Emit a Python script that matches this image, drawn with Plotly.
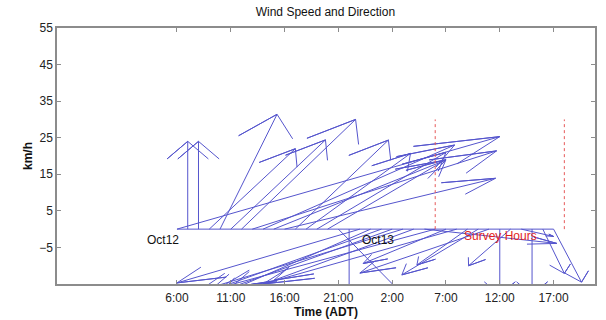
import plotly.graph_objects as go

# hour index of each feather origin (hours since Oct12 00:00)
hours = list(range(6, 42))
# wind vector components in km/h (east, north)
u = [30.0, 0.0, 0.0, 8.0, 5.3, 8.8, 10.6, 22.7, 17.8, 16.0, 19.6, 8.65, 9.7, 12.0, 11.0,
     6.7, 0.0, -17.0, -14.0, -16.0, -15.0, -19.0, -13.0, 12.3, -20.0, -7.7, -18.0, -4.7,
     -7.1, -12.0, 0.0, -3.9, 3.0, 0.0, 2.0, 2.6]
v = [25.3, 24.0, 24.0, 22.0, 31.4, 24.4, 30.0, 21.4, 23.0, 18.9, 13.9, 24.35, 20.7, 21.0, 19.0,
     -20.0, -20.0, -14.7, -18.0, -17.0, -16.0, -17.0, -14.0, -3.9, -16.0, -9.4, -15.0, -9.8,
     -12.5, -12.0, -18.0, -10.0, -2.0, -18.0, -12.1, -14.5]

tick_vals = [6, 11, 16, 21, 26, 31, 36, 41]
tick_text = ["6:00", "11:00", "16:00", "21:00", "2:00", "7:00", "12:00", "17:00"]
y_ticks = [-5, 5, 15, 25, 35, 45, 55]
survey_start, survey_end, survey_top = 30, 42, 30
day_labels = [("Oct12", 3, -3), ("Oct13", 23, -3)]

xs, ys = [], []
for o, a, b in zip(hours, u, v):
    tipx, tipy = o + a, b
    b1x, b1y = o + 0.8 * a - 0.08 * b, 0.8 * b + 0.08 * a
    b2x, b2y = o + 0.8 * a + 0.08 * b, 0.8 * b - 0.08 * a
    xs += [o, tipx, b1x, tipx, b2x, None]
    ys += [0, tipy, b1y, tipy, b2y, None]

blue = "rgb(85,85,205)"
fig = go.Figure()
fig.add_trace(go.Scatter(x=[hours[0], hours[-1]], y=[0, 0], mode="lines",
                         line=dict(color=blue, width=1), hoverinfo="skip"))
fig.add_trace(go.Scatter(x=xs, y=ys, mode="lines",
                         line=dict(color=blue, width=1), hoverinfo="skip"))
for xv in (survey_start, survey_end):
    fig.add_trace(go.Scatter(x=[xv, xv], y=[0, survey_top], mode="lines",
                             line=dict(color="rgb(230,90,90)", width=1, dash="dot"),
                             hoverinfo="skip"))

font = "Liberation Sans, Arial, sans-serif"
for txt, xv, yv in day_labels:
    fig.add_annotation(x=xv, y=yv, text=txt, showarrow=False, xanchor="left",
                       yanchor="middle", font=dict(family=font, size=12, color="#111"))
fig.add_annotation(x=32.5, y=-2, text="Survey Hours", showarrow=False, xanchor="left",
                   yanchor="middle", font=dict(family=font, size=12, color="rgb(225,30,30)"))

fig.update_layout(
    width=606, height=320, showlegend=False,
    margin=dict(l=57, r=11, t=28, b=36),
    paper_bgcolor="white", plot_bgcolor="white",
    font=dict(family=font, size=12, color="#222"),
    title=dict(text="Wind Speed and Direction", x=0.537, xanchor="center",
               y=0.975, yanchor="top", font=dict(family=font, size=12, color="#111")),
)
axis_common = dict(showgrid=False, zeroline=False, showline=True, linecolor="#8c8c8c",
                   linewidth=1.5, mirror="ticks", ticks="inside", ticklen=4,
                   tickcolor="#8c8c8c", automargin=False,
                   tickfont=dict(family=font, size=12, color="#222"))
fig.update_xaxes(range=[-5.15, 44.85], tickvals=tick_vals, ticktext=tick_text,
                 ticklabelstandoff=2,
                 title=dict(text="<b>Time (ADT)</b>", standoff=3,
                            font=dict(family=font, size=12, color="#111")),
                 **axis_common)
fig.update_yaxes(range=[-15, 55], tickvals=y_ticks,
                 title=dict(text="<b>km/h</b>", standoff=4,
                            font=dict(family=font, size=12, color="#111")),
                 **axis_common)

fig.write_html("out.html")
